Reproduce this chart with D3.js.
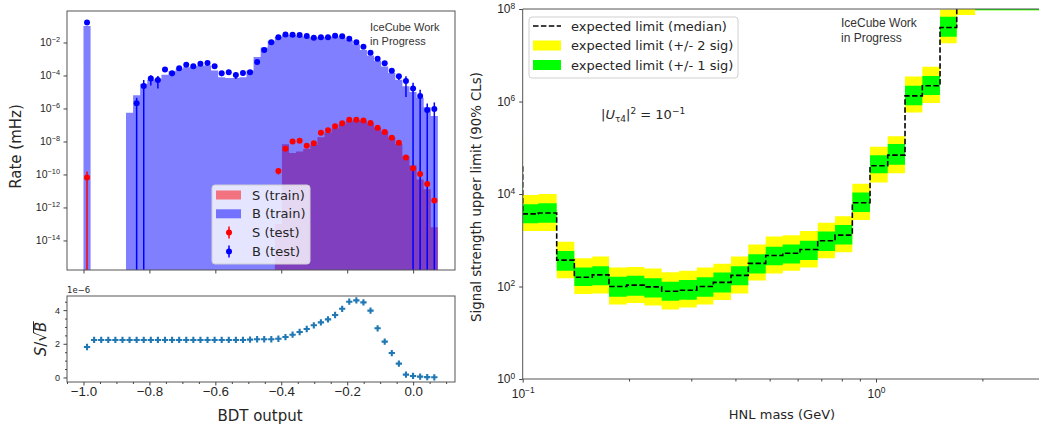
<!DOCTYPE html>
<html>
<head>
<meta charset="utf-8">
<script src="https://cdnjs.cloudflare.com/ajax/libs/d3/7.8.5/d3.min.js"></script>
<style>
  body { margin: 0; background: #fff; }
  svg { display: block; font-family: "DejaVu Sans", sans-serif; }
</style>
</head>
<body>
<svg id="chart"></svg>
<script>
// ---------------- DATA ----------------
// BDT output histograms: 50 equal bins starting at -1.0
const bdtFirstEdge = -1.0;
const bdtBinWidth = 0.0215;
const bdtTicks = [-1.0, -0.8, -0.6, -0.4, -0.2, 0.0];
const rateTicks = [1e-2, 1e-4, 1e-6, 1e-8, 1e-10, 1e-12, 1e-14];

// rates in mHz, one per bin
const bkgTrain = [
  1.0e-1, 0, 0, 0, 0, 0, 5.6e-7, 6.3e-6, 3.2e-5, 5.6e-5,
  6.3e-5, 1.1e-4, 1.8e-4, 2.5e-4, 3.2e-4, 3.5e-4, 4.0e-4, 4.0e-4, 2.0e-4, 7.9e-5,
  7.1e-5, 7.1e-5, 7.9e-5, 2.0e-4, 1.3e-3, 5.0e-3, 1.26e-2, 2.2e-2, 2.8e-2, 2.8e-2,
  2.5e-2, 2.2e-2, 2.0e-2, 2.1e-2, 2.2e-2, 2.4e-2, 2.0e-2, 1.4e-2, 7.9e-3, 3.5e-3,
  1.6e-3, 7.9e-4, 3.5e-4, 1.4e-4, 5.6e-5, 2.2e-5, 1.0e-5, 4.5e-6, 1.2e-6, 3.5e-7
];
const bkgTest = [
  1.6e-1, 0, 0, 0, 0, 0, 0, 2.1e-6, 2.3e-5, 6.5e-5,
  5.4e-5, 2.3e-4, 1.35e-4, 2.7e-4, 4.4e-4, 3.6e-4, 5.2e-4, 5.7e-4, 3.6e-4, 1.35e-4,
  1.55e-4, 1.07e-4, 1.4e-4, 1.55e-4, 6.6e-4, 3.5e-3, 1.02e-2, 2.1e-2, 3.1e-2, 2.95e-2,
  2.8e-2, 2.45e-2, 1.95e-2, 2.1e-2, 2.1e-2, 2.55e-2, 2.35e-2, 1.7e-2, 1.02e-2, 5.6e-3,
  2.4e-3, 1.05e-3, 5.5e-4, 1.95e-4, 8.9e-5, 4.7e-5, 1.6e-5, 5.8e-6, 8.1e-7, 9.3e-7
];
const bkgTestErr = [
  8e-3, 0, 0, 0, 0, 0, 0, 2.3e-6, 3.0e-5, 4.0e-5,
  3.8e-5, 3.5e-5, 4.5e-5, 4.0e-5, 5.0e-5, 4.5e-5, 5.0e-5, 5.5e-5, 5.0e-5, 4.5e-5,
  4.5e-5, 4.5e-5, 4.5e-5, 4.5e-5, 5.0e-5, 1.0e-4, 2.0e-4, 3.0e-4, 3.0e-4, 3.0e-4,
  3.0e-4, 3.0e-4, 3.0e-4, 3.0e-4, 3.0e-4, 3.0e-4, 3.0e-4, 3.0e-4, 2.0e-4, 1.5e-4,
  1.0e-4, 7.0e-5, 5.0e-5, 4.0e-5, 3.5e-5, 4.2e-5, 2.0e-5, 8.0e-6, 1.2e-6, 1.4e-6
];
const sigTrain = [
  0, 0, 0, 0, 0, 0, 0, 0, 0, 0,
  0, 0, 0, 0, 0, 0, 0, 0, 0, 0,
  0, 0, 0, 0, 0, 0, 0, 1.0e-13, 6.8e-9, 2.0e-9,
  2.5e-9, 3.5e-9, 6.3e-9, 1.8e-8, 3.5e-8, 6.3e-8, 1.1e-7, 1.8e-7, 2.0e-7, 1.8e-7,
  1.26e-7, 7.1e-8, 4.0e-8, 1.8e-8, 7.1e-9, 1.26e-9, 3.5e-10, 5.0e-11, 1.26e-11, 6.3e-14
];
const sigTest = [
  6.5e-11, 0, 0, 0, 0, 0, 0, 0, 0, 0,
  0, 0, 0, 0, 0, 0, 0, 0, 0, 0,
  0, 0, 0, 0, 0, 0, 0, 1.6e-10, 3.6e-9, 1.0e-8,
  1.1e-8, 5.6e-9, 7.8e-9, 3.4e-8, 4.8e-8, 8.3e-8, 1.26e-7, 2.1e-7, 2.1e-7, 1.9e-7,
  1.3e-7, 6.9e-8, 3.8e-8, 1.7e-8, 8.5e-9, 1.05e-9, 2.4e-10, 1.07e-10, 2.6e-11, 2.6e-12
];
const sigTestErr = [
  8.5e-11, 0, 0, 0, 0, 0, 0, 0, 0, 0,
  0, 0, 0, 0, 0, 0, 0, 0, 0, 0,
  0, 0, 0, 0, 0, 0, 0, 6e-11, 2e-10, 4e-10,
  4e-10, 3e-10, 3e-10, 8e-10, 1e-9, 1.5e-9, 2e-9, 3e-9, 3e-9, 3e-9,
  2e-9, 1.2e-9, 8e-10, 5e-10, 2.5e-10, 8e-11, 3e-11, 1.5e-11, 4e-12, 5e-13
];

// S/sqrt(B) per bin, in units of 1e-6
const sOverSqrtB = [
  1.81, 2.23, 2.23, 2.23, 2.23, 2.23, 2.23, 2.23, 2.23, 2.23,
  2.23, 2.23, 2.23, 2.23, 2.23, 2.23, 2.23, 2.23, 2.23, 2.23,
  2.23, 2.23, 2.23, 2.25, 2.27, 2.27, 2.27, 2.30, 2.40, 2.54,
  2.70, 2.88, 3.10, 3.27, 3.45, 3.71, 4.08, 4.50, 4.58, 4.46,
  3.97, 2.92, 2.13, 1.45, 0.82, 0.17, 0.09, 0.05, 0.02, 0.01
];
const signifTicks = [0, 2, 4];

// expected limit vs HNL mass (GeV), step bins
const limitMassEdges = [0.095, 0.1, 0.1107, 0.1248, 0.1400, 0.1574, 0.1755, 0.1970, 0.2209, 0.2474,
  0.2770, 0.3109, 0.3464, 0.3887, 0.4350, 0.4874, 0.5445, 0.6093, 0.6839, 0.7656,
  0.8569, 0.9617, 1.0792, 1.2080, 1.3522, 1.5176, 1.6922, 1.9060, 2.14, 2.40, 2.69, 3.02];
const limitMinus2 = [7.9e3, 1585, 1585, 151, 69, 71, 41, 44, 39, 32, 35, 41, 51, 71, 135, 191,
  219, 257, 407, 550, 2754, 17783, 28184, 5.75e5, 9.3e5, 1.82e7, 7.41e7, 9.44e7, 9.44e7, 9.44e7, 9.44e7];
const limitMinus1 = [1.0e4, 2344, 2399, 219, 102, 107, 60, 63, 58, 49, 52, 60, 74, 107, 191, 288,
  316, 372, 589, 813, 4074, 28184, 42658, 8.3e5, 1.38e6, 2.51e7, 1.12e8, 9.44e7, 9.44e7, 9.44e7, 9.44e7];
const limitMedian = [3.98e4, 3715, 3890, 372, 158, 178, 100, 107, 98, 79, 83, 100, 123, 174, 316, 468,
  525, 631, 977, 1288, 6457, 40738, 69183, 1.32e6, 2.19e6, 3.98e7, 2.0e8, 3e8, 3e8, 3e8, 3e8];
const limitPlus1 = [1.58e5, 6026, 6310, 589, 257, 275, 162, 170, 151, 126, 138, 158, 200, 275, 501, 724,
  813, 977, 1549, 2138, 10715, 69183, 120226, 2.19e6, 3.55e6, 6.76e7, 3.16e8, 6e8, 6e8, 6e8, 6e8];
const limitPlus2 = [3.16e5, 9550, 10000, 933, 407, 447, 257, 263, 245, 204, 219, 257, 309, 447, 813, 1202,
  1288, 1585, 2399, 3311, 16596, 104713, 177828, 3.47e6, 5.62e6, 9.77e7, 5.0e8, 1e9, 1e9, 1e9, 1e9];
const limitYTicks = [1, 1e2, 1e4, 1e6, 1e8];
const massMajorTicks = [0.1, 1];
const massMinorTicks = [0.2, 0.3, 0.4, 0.5, 0.6, 0.7, 0.8, 0.9, 2, 3];

// ---------------- GLOBALS ----------------
let svg;
let xBdt;
const WIDTH = 1039, HEIGHT = 432;
const ratePanel = {left: 67, right: 455, top: 11, bottom: 270};
const signifPanel = {left: 67, right: 455, top: 296, bottom: 382};
const limitPanel = {left: 522.7, right: 1044.6, top: 9, bottom: 379};
const spineColor = "#555";
const textColor = "#262626";

setupPage();
drawRatePanel();
drawSignificancePanel();
drawLimitPanel();

function setupPage(){
  svg = d3.select("#chart").attr("width", WIDTH).attr("height", HEIGHT);
  svg.append("rect").attr("width", WIDTH).attr("height", HEIGHT).attr("fill", "#fff");
  xBdt = d3.scaleLinear().domain([-1.05, 0.127]).range([ratePanel.left, ratePanel.right]);
}

function addClip(id, p){
  svg.append("clipPath").attr("id", id).append("rect")
    .attr("x", p.left).attr("y", p.top)
    .attr("width", p.right - p.left).attr("height", p.bottom - p.top);
}

function drawFrame(p){
  svg.append("rect")
    .attr("x", p.left).attr("y", p.top)
    .attr("width", p.right - p.left).attr("height", p.bottom - p.top)
    .attr("fill", "none").attr("stroke", spineColor).attr("stroke-width", 1);
}

function styleAxis(g){
  g.select(".domain").remove();
  g.selectAll(".tick line").attr("stroke", "#444");
  g.selectAll(".tick text").attr("fill", textColor);
}

// turn tick labels into 10^n with a superscript
function powerLabels(g, size){
  g.selectAll(".tick text").each(function(d){
    const exp = Math.round(Math.log10(d));
    const t = d3.select(this).text(null).attr("font-size", size);
    t.append("tspan").text("10");
    t.append("tspan").attr("dy", "-0.55em").attr("font-size", size * 0.7)
      .text(exp < 0 ? "\u2212" + (-exp) : exp);
  });
}

function minusFormat(d){
  return (d < 0 ? "\u2212" : "") + Math.abs(d).toFixed(1);
}

function histPoints(values){
  const pts = values.map((v, i) => ({edge: bdtFirstEdge + i * bdtBinWidth, value: v}));
  pts.push({edge: bdtFirstEdge + values.length * bdtBinWidth, value: values[values.length - 1]});
  return pts;
}

function drawTestPoints(layer, values, errors, color, yScale, p){
  const pts = values.map((v, i) => ({x: bdtFirstEdge + (i + 0.5) * bdtBinWidth, v: v, e: errors[i]}))
    .filter(d => d.v > 0);
  layer.selectAll(null).data(pts).enter().append("line")
    .attr("x1", d => xBdt(d.x)).attr("x2", d => xBdt(d.x))
    .attr("y1", d => yScale(d.v + d.e))
    .attr("y2", d => d.v - d.e > 0 ? yScale(d.v - d.e) : p.bottom + 2)
    .attr("stroke", color).attr("stroke-width", 1.5);
  layer.selectAll(null).data(pts).enter().append("circle")
    .attr("cx", d => xBdt(d.x)).attr("cy", d => yScale(d.v))
    .attr("r", 3).attr("fill", color);
}

function drawRatePanel(){
  const p = ratePanel;
  const yRate = d3.scaleLog().domain([1.62e-16, 0.81]).range([p.bottom, p.top]);
  addClip("clipRate", p);
  const plot = svg.append("g").attr("clip-path", "url(#clipRate)");

  const histArea = d3.area()
    .curve(d3.curveStepAfter)
    .x(d => xBdt(d.edge))
    .y0(p.bottom)
    .y1(d => d.value > 0 ? yRate(d.value) : p.bottom);

  plot.append("path").datum(histPoints(sigTrain)).attr("d", histArea)
    .attr("fill", "red").attr("fill-opacity", 0.5);
  plot.append("path").datum(histPoints(bkgTrain)).attr("d", histArea)
    .attr("fill", "blue").attr("fill-opacity", 0.5);

  drawTestPoints(plot, bkgTest, bkgTestErr, "blue", yRate, p);
  drawTestPoints(plot, sigTest, sigTestErr, "red", yRate, p);

  drawFrame(p);

  svg.append("g").attr("transform", `translate(0,${p.bottom})`)
    .call(d3.axisBottom(xBdt).tickValues(bdtTicks).tickSize(3.5).tickFormat(""))
    .call(styleAxis);
  svg.append("g").attr("transform", `translate(${p.left},0)`)
    .call(d3.axisLeft(yRate).tickValues(rateTicks).tickSize(3.5).tickPadding(3.5))
    .call(styleAxis)
    .call(g => powerLabels(g, 10.5));

  svg.append("text")
    .attr("transform", `translate(21,${(p.top + p.bottom) / 2 + 6}) rotate(-90)`)
    .attr("text-anchor", "middle").attr("font-size", 15).attr("fill", textColor)
    .text("Rate (mHz)");

  const ice = svg.append("text").attr("font-family", "Liberation Sans, Arial, sans-serif")
    .attr("font-size", 11).attr("fill", "#333");
  ice.append("tspan").attr("x", 370).attr("y", 31).text("IceCube Work");
  ice.append("tspan").attr("x", 370).attr("y", 45).text("in Progress");

  // legend
  const lg = svg.append("g");
  lg.append("rect").attr("x", 212).attr("y", 185).attr("width", 98).attr("height", 79)
    .attr("rx", 3).attr("fill", "#fff").attr("fill-opacity", 0.8)
    .attr("stroke", "#d0d0d0");
  const entries = [
    {label: "S (train)", kind: "patch", color: "red"},
    {label: "B (train)", kind: "patch", color: "blue"},
    {label: "S (test)", kind: "point", color: "red"},
    {label: "B (test)", kind: "point", color: "blue"}
  ];
  entries.forEach((e, i) => {
    const cy = 195 + i * 18.8;
    if (e.kind === "patch"){
      lg.append("rect").attr("x", 216).attr("y", cy - 4.5).attr("width", 25).attr("height", 9)
        .attr("fill", e.color).attr("fill-opacity", 0.5);
    } else {
      lg.append("line").attr("x1", 229).attr("x2", 229).attr("y1", cy - 6).attr("y2", cy + 6)
        .attr("stroke", e.color).attr("stroke-width", 1.5);
      lg.append("circle").attr("cx", 229).attr("cy", cy).attr("r", 3).attr("fill", e.color);
    }
    lg.append("text").attr("x", 252).attr("y", cy + 4.5).attr("font-size", 13)
      .attr("fill", textColor).text(e.label);
  });
}

function drawSignificancePanel(){
  const p = signifPanel;
  const ySig = d3.scaleLinear().domain([-0.27, 4.84]).range([p.bottom, p.top]);

  const pts = sOverSqrtB.map((v, i) => ({x: bdtFirstEdge + (i + 0.5) * bdtBinWidth, v: v}));
  const cross = d3.symbol().type(d3.symbolCross).size(22);
  svg.append("g").selectAll("path").data(pts).enter().append("path")
    .attr("transform", d => `translate(${xBdt(d.x)},${ySig(d.v)})`)
    .attr("d", cross).attr("fill", "#1f77b4");

  drawFrame(p);

  const minorX = d3.range(-21, 3).map(k => k * 0.05).filter(v => Math.abs(v * 5 - Math.round(v * 5)) > 1e-6);
  svg.append("g").attr("transform", `translate(0,${p.bottom})`)
    .call(d3.axisBottom(xBdt).tickValues(minorX).tickSize(2).tickFormat(""))
    .call(styleAxis);
  svg.append("g").attr("transform", `translate(0,${p.bottom})`)
    .call(d3.axisBottom(xBdt).tickValues(bdtTicks).tickSize(3.5).tickPadding(1.5).tickFormat(minusFormat))
    .call(styleAxis)
    .call(g => g.selectAll(".tick text").attr("font-size", 13.3));

  const minorY = [0.5, 1, 1.5, 2.5, 3, 3.5, 4.5];
  svg.append("g").attr("transform", `translate(${p.left},0)`)
    .call(d3.axisLeft(ySig).tickValues(minorY).tickSize(2).tickFormat(""))
    .call(styleAxis);
  svg.append("g").attr("transform", `translate(${p.left},0)`)
    .call(d3.axisLeft(ySig).tickValues(signifTicks).tickSize(3.5).tickPadding(3.5).tickFormat(d3.format("d")))
    .call(styleAxis)
    .call(g => g.selectAll(".tick text").attr("font-size", 9));

  svg.append("text").attr("x", p.left).attr("y", 293).attr("font-size", 8.5)
    .attr("fill", textColor).text("1e\u22126");

  // S/sqrt(B) label with a bar over B
  const lab = svg.append("g").attr("transform", `translate(46,${(p.top + p.bottom) / 2}) rotate(-90)`);
  const t = lab.append("text").attr("text-anchor", "middle").attr("font-size", 15)
    .attr("fill", textColor);
  t.append("tspan").attr("font-style", "italic").text("S");
  t.append("tspan").text("/\u221A");
  t.append("tspan").attr("font-style", "italic").text("B");
  const node = t.node();
  const total = node.getComputedTextLength();
  const before = node.getSubStringLength(0, 3);
  const bw = node.getSubStringLength(3, 1);
  lab.append("line")
    .attr("x1", -total / 2 + before - 1).attr("x2", -total / 2 + before + bw + 0.5)
    .attr("y1", -12.5).attr("y2", -12.5)
    .attr("stroke", textColor).attr("stroke-width", 1);

  svg.append("text").attr("x", 260).attr("y", 421).attr("text-anchor", "middle")
    .attr("font-size", 15).attr("fill", textColor).text("BDT output");
}

function drawLimitPanel(){
  const p = limitPanel;
  const xMass = d3.scaleLog().domain([0.1, 3]).range([p.left, p.right]);
  const yLimit = d3.scaleLog().domain([1, 1e8]).range([p.bottom, p.top]);
  addClip("clipLimit", p);
  const plot = svg.append("g").attr("clip-path", "url(#clipLimit)");

  const nBins = limitMedian.length;
  const steps = limitMassEdges.map((m, k) => {
    const b = Math.min(k, nBins - 1);
    return {m: m, lo2: limitMinus2[b], lo1: limitMinus1[b], med: limitMedian[b],
            hi1: limitPlus1[b], hi2: limitPlus2[b]};
  });

  const band = (lo, hi) => d3.area().curve(d3.curveStepAfter)
    .x(d => xMass(d.m)).y0(d => yLimit(d[lo])).y1(d => yLimit(d[hi]));

  plot.append("path").datum(steps).attr("d", band("lo2", "hi2")).attr("fill", "#ffff00");
  plot.append("path").datum(steps).attr("d", band("lo1", "hi1")).attr("fill", "#00ff00");
  plot.append("path").datum(steps)
    .attr("d", d3.line().curve(d3.curveStepAfter).x(d => xMass(d.m)).y(d => yLimit(d.med)))
    .attr("fill", "none").attr("stroke", "#000").attr("stroke-width", 1.6)
    .attr("stroke-dasharray", "5.5,2.4");

  // spines: left, bottom, top (right edge lies outside the picture)
  svg.append("path")
    .attr("d", `M${p.right},${p.top}H${p.left}V${p.bottom}H${p.right}`)
    .attr("fill", "none").attr("stroke", spineColor);

  svg.append("g").attr("transform", `translate(0,${p.bottom})`)
    .call(d3.axisBottom(xMass).tickValues(massMinorTicks).tickSize(2.5).tickFormat(""))
    .call(styleAxis);
  svg.append("g").attr("transform", `translate(0,${p.bottom})`)
    .call(d3.axisBottom(xMass).tickValues(massMajorTicks).tickSize(3.5).tickPadding(7))
    .call(styleAxis)
    .call(g => powerLabels(g, 12));
  svg.append("g").attr("transform", `translate(${p.left},0)`)
    .call(d3.axisLeft(yLimit).tickValues(limitYTicks).tickSize(3.5).tickPadding(4))
    .call(styleAxis)
    .call(g => powerLabels(g, 12));

  svg.append("text").attr("x", 782).attr("y", 419).attr("text-anchor", "middle")
    .attr("font-size", 13).attr("fill", textColor).text("HNL mass (GeV)");
  svg.append("text")
    .attr("transform", `translate(481,197) rotate(-90)`)
    .attr("text-anchor", "middle").attr("font-size", 13.3).attr("fill", textColor)
    .text("Signal strength upper limit (90% CLs)");

  const ice = svg.append("text").attr("font-family", "Liberation Sans, Arial, sans-serif")
    .attr("font-size", 12).attr("fill", "#333");
  ice.append("tspan").attr("x", 841).attr("y", 27).text("IceCube Work");
  ice.append("tspan").attr("x", 841).attr("y", 42).text("in Progress");

  // |U_tau4|^2 = 10^-1
  const ann = svg.append("text").attr("x", 601).attr("y", 119).attr("font-size", 13)
    .attr("fill", textColor);
  ann.append("tspan").text("|");
  ann.append("tspan").attr("font-style", "italic").text("U");
  ann.append("tspan").attr("font-size", 9).attr("dy", 3).text("\u03C44");
  ann.append("tspan").attr("dy", -3).text("|");
  ann.append("tspan").attr("font-size", 9).attr("dy", -5).text("2");
  ann.append("tspan").attr("dy", 5).text(" = 10");
  ann.append("tspan").attr("font-size", 9).attr("dy", -5).text("\u22121");

  // legend
  const lg = svg.append("g");
  lg.append("rect").attr("x", 529).attr("y", 17).attr("width", 209).attr("height", 61)
    .attr("rx", 3).attr("fill", "#fff").attr("fill-opacity", 0.8).attr("stroke", "#d0d0d0");
  const entries = [
    {label: "expected limit (median)", kind: "line"},
    {label: "expected limit (+/- 2 sig)", kind: "patch", color: "#ffff00"},
    {label: "expected limit (+/- 1 sig)", kind: "patch", color: "#00ff00"}
  ];
  entries.forEach((e, i) => {
    const cy = 26 + i * 19.5;
    if (e.kind === "line"){
      lg.append("line").attr("x1", 533).attr("x2", 561).attr("y1", cy).attr("y2", cy)
        .attr("stroke", "#000").attr("stroke-width", 1.6).attr("stroke-dasharray", "5.5,2.4");
    } else {
      lg.append("rect").attr("x", 533).attr("y", cy - 5).attr("width", 28).attr("height", 10)
        .attr("fill", e.color);
    }
    lg.append("text").attr("x", 571).attr("y", cy + 4.5).attr("font-size", 13)
      .attr("fill", textColor).text(e.label);
  });
}
</script>
</body>
</html>
